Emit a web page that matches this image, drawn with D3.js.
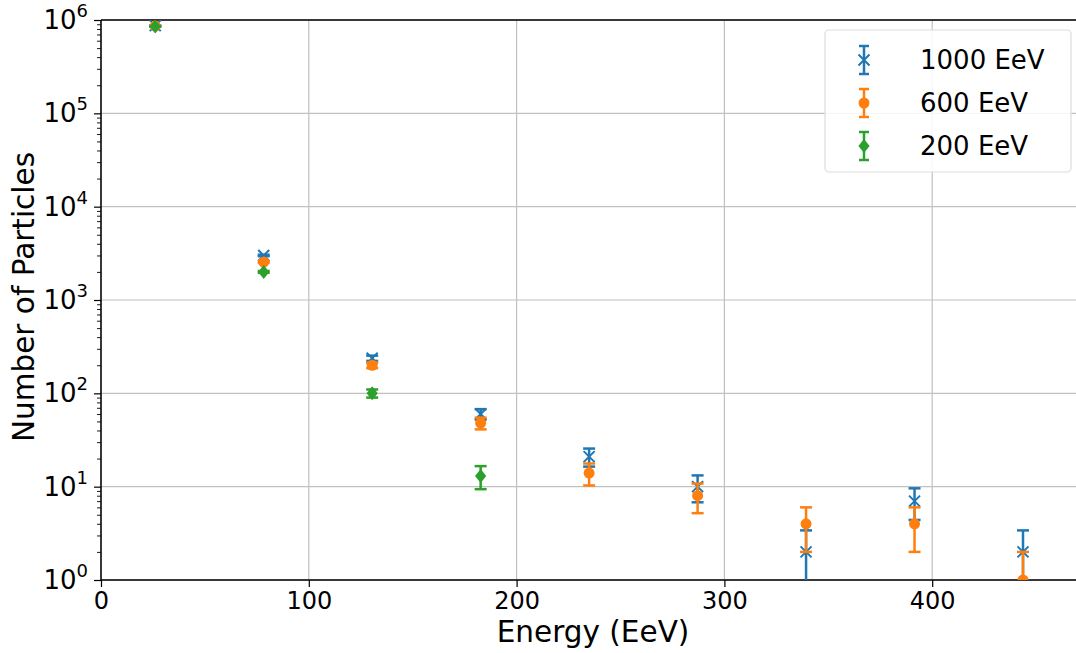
<!DOCTYPE html>
<html>
<head>
<meta charset="utf-8">
<script src="https://cdn.jsdelivr.net/npm/d3@7"></script>
<style>
  body { margin: 0; background: #fff; }
  text { font-family: "DejaVu Sans", sans-serif; }
</style>
</head>
<body>
<svg id="chart" width="1076" height="653"></svg>
<script>
// Bin centres (EeV)
const energy = [26.1, 78.3, 130.5, 182.7, 234.9, 287.1, 339.3, 391.5, 443.7];

// Counts per bin
const counts1000 = [870000, 3000, 238, 60, 21, 10, 2, 7, 2];
const counts600 = [860000, 2550, 200, 48, 14, 8, 4, 4, 1];
const counts200 = [850000, 2000, 100, 13];

// Error bar half-heights
const err1000 = [933, 55, 15.4, 7.7, 4.6, 3.2, 1.4, 2.6, 1.4];
const err600 = [927, 50, 14.1, 6.9, 3.7, 2.8, 2, 2, 1];
const err200 = [922, 45, 10, 3.6];

const xTicks = [0, 100, 200, 300, 400];
const yTicks = [1, 10, 100, 1000, 10000, 100000, 1000000];

const series = [
  { label: "1000 EeV", color: "#1f77b4", marker: "x", y: counts1000, e: err1000 },
  { label: "600 EeV", color: "#ff7f0e", marker: "o", y: counts600, e: err600 },
  { label: "200 EeV", color: "#2ca02c", marker: "D", y: counts200, e: err200 }
];

const margin = { top: 20, left: 101, bottom: 580 };
const svg = d3.select("#chart");

const x = d3.scaleLinear().domain([0, 470]).range([margin.left, margin.left + 470 * 2.078]);
const y = d3.scaleLog().domain([1, 1e6]).range([margin.bottom, margin.top]);

svg.append("defs").append("clipPath").attr("id", "plot")
  .append("rect")
  .attr("x", margin.left).attr("y", margin.top)
  .attr("width", 1076 - margin.left).attr("height", margin.bottom - margin.top);

// grid
const grid = svg.append("g");
grid.selectAll(".gx").data(xTicks).join("line")
  .attr("x1", d => x(d)).attr("x2", d => x(d))
  .attr("y1", margin.top).attr("y2", margin.bottom)
  .attr("stroke", "#c0c0c0").attr("stroke-width", 1.2);
grid.selectAll(".gy").data(yTicks).join("line")
  .attr("x1", margin.left).attr("x2", 1076)
  .attr("y1", d => y(d)).attr("y2", d => y(d))
  .attr("stroke", "#c0c0c0").attr("stroke-width", 1.2);

// x axis
const xAxis = svg.append("g")
  .attr("transform", `translate(0,${margin.bottom})`)
  .call(d3.axisBottom(x).tickValues(xTicks).tickSize(7).tickPadding(5));
xAxis.select(".domain").remove();
xAxis.selectAll("text").attr("font-size", 24).attr("fill", "#000");
xAxis.selectAll("line").attr("stroke-width", 1.2);

// y axis with minor ticks
const minor = [];
for (let p = 0; p < 6; p++) for (let k = 2; k < 10; k++) minor.push(k * Math.pow(10, p));
const yAxis = svg.append("g")
  .attr("transform", `translate(${margin.left},0)`)
  .call(d3.axisLeft(y).tickValues(yTicks).tickSize(7).tickFormat(""));
yAxis.select(".domain").remove();
yAxis.selectAll("line").attr("stroke-width", 1.2);
svg.append("g").attr("transform", `translate(${margin.left},0)`)
  .call(d3.axisLeft(y).tickValues(minor).tickSize(4).tickFormat(""))
  .call(g => g.select(".domain").remove())
  .selectAll("line").attr("stroke-width", 0.9);

const yLab = svg.append("g").selectAll("text").data(yTicks).join("text")
  .attr("x", margin.left - 13)
  .attr("y", d => y(d) + 9)
  .attr("text-anchor", "end")
  .attr("font-size", 26)
  .attr("fill", "#000");
yLab.append("tspan").text("10");
yLab.append("tspan").attr("font-size", 18).attr("dy", -12).text(d => Math.round(Math.log10(d)));

// spines
svg.append("line").attr("x1", margin.left).attr("x2", margin.left)
  .attr("y1", margin.top).attr("y2", margin.bottom).attr("stroke", "#000").attr("stroke-width", 1.5);
svg.append("line").attr("x1", margin.left).attr("x2", 1076)
  .attr("y1", margin.bottom).attr("y2", margin.bottom).attr("stroke", "#000").attr("stroke-width", 1.5);
svg.append("line").attr("x1", margin.left).attr("x2", 1076)
  .attr("y1", margin.top).attr("y2", margin.top).attr("stroke", "#000").attr("stroke-width", 1.5);

// axis labels
svg.append("text").attr("x", 593).attr("y", 642).attr("text-anchor", "middle")
  .attr("font-size", 29.5).text("Energy (EeV)");
svg.append("text").attr("transform", "translate(34,297) rotate(-90)").attr("text-anchor", "middle")
  .attr("font-size", 29.5).text("Number of Particles");

function drawMarker(g, type, color, cx, cy) {
  if (type === "x") {
    const s = 5.5;
    g.append("path").attr("d", `M${cx - s},${cy - s}L${cx + s},${cy + s}M${cx - s},${cy + s}L${cx + s},${cy - s}`)
      .attr("stroke", color).attr("stroke-width", 2).attr("fill", "none");
  } else if (type === "o") {
    g.append("circle").attr("cx", cx).attr("cy", cy).attr("r", 5.5).attr("fill", color);
  } else {
    const s = 7;
    g.append("path").attr("d", `M${cx},${cy - s}L${cx + s * 0.8},${cy}L${cx},${cy + s}L${cx - s * 0.8},${cy}Z`)
      .attr("fill", color);
  }
}

// data
const plot = svg.append("g").attr("clip-path", "url(#plot)");
series.forEach(s => {
  const g = plot.append("g");
  s.y.forEach((v, i) => {
    const cx = x(energy[i]);
    const lo = Math.max(v - s.e[i], 0.01);
    const hi = v + s.e[i];
    g.append("line").attr("x1", cx).attr("x2", cx).attr("y1", y(lo)).attr("y2", y(hi))
      .attr("stroke", s.color).attr("stroke-width", 2.5);
    [lo, hi].forEach(b => g.append("line").attr("x1", cx - 6).attr("x2", cx + 6)
      .attr("y1", y(b)).attr("y2", y(b)).attr("stroke", s.color).attr("stroke-width", 2.5));
    drawMarker(g, s.marker, s.color, cx, y(v));
  });
});

// legend
const leg = svg.append("g");
leg.append("rect").attr("x", 825).attr("y", 30).attr("width", 246).attr("height", 142)
  .attr("rx", 4).attr("fill", "rgba(255,255,255,0.85)").attr("stroke", "#dddddd").attr("stroke-width", 1.2);
series.forEach((s, i) => {
  const cy = 60 + i * 43;
  const cx = 864;
  leg.append("line").attr("x1", cx).attr("x2", cx).attr("y1", cy - 14).attr("y2", cy + 14)
    .attr("stroke", s.color).attr("stroke-width", 2.5);
  [cy - 14, cy + 14].forEach(b => leg.append("line").attr("x1", cx - 5).attr("x2", cx + 5)
    .attr("y1", b).attr("y2", b).attr("stroke", s.color).attr("stroke-width", 2.5));
  drawMarker(leg, s.marker, s.color, cx, cy);
  leg.append("text").attr("x", 920).attr("y", cy + 9).attr("font-size", 26).text(s.label);
});
</script>
</body>
</html>
